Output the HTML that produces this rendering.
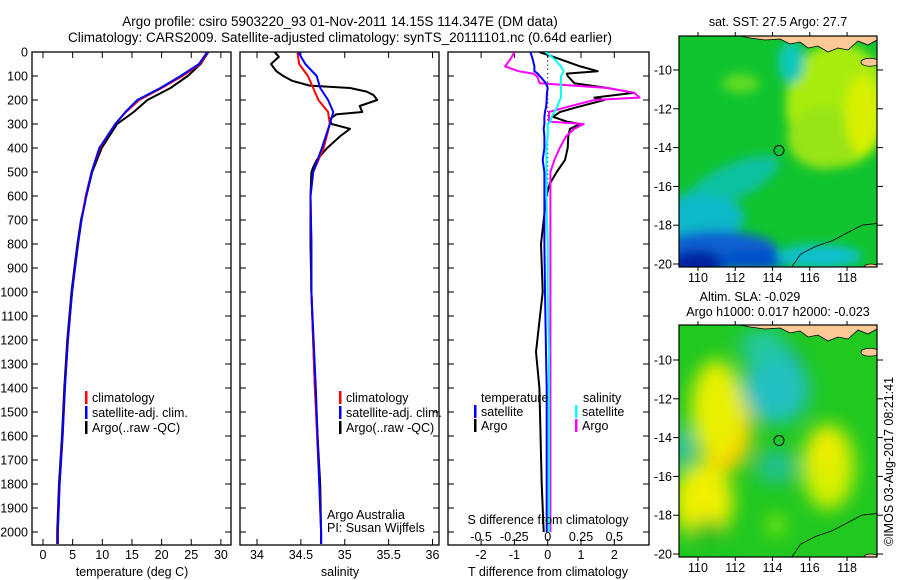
<!DOCTYPE html>
<html><head><meta charset="utf-8">
<style>
html,body{margin:0;padding:0;background:#fff;}
svg{display:block;font-family:"Liberation Sans",sans-serif;}
text{font-size:12.5px;fill:#000;}
</style></head>
<body>
<svg id="fig" width="900" height="580" viewBox="0 0 900 580" xmlns="http://www.w3.org/2000/svg">
<defs>
<filter id="blur1" x="-10%" y="-10%" width="120%" height="120%"><feGaussianBlur stdDeviation="5"/></filter>
<filter id="blur2" x="-10%" y="-10%" width="120%" height="120%"><feGaussianBlur stdDeviation="9"/></filter>
<clipPath id="clipMap1"><rect x="679" y="36" width="198" height="231"/></clipPath>
<clipPath id="clipMap2"><rect x="679" y="325" width="198" height="232"/></clipPath>
<clipPath id="clipP1"><rect x="32" y="52" width="199" height="493"/></clipPath>
<clipPath id="clipP2"><rect x="240" y="52" width="199" height="493"/></clipPath>
<clipPath id="clipP3"><rect x="448" y="52" width="201" height="493"/></clipPath>
</defs>
<text x="340" y="26" text-anchor="middle" style="font-size:13.5px">Argo profile: csiro 5903220_93 01-Nov-2011 14.15S 114.347E (DM data)</text>
<text x="340" y="42" text-anchor="middle" style="font-size:13.5px">Climatology: CARS2009. Satellite-adjusted climatology: synTS_20111101.nc (0.64d earlier)</text>
<g id="g"></g>
</svg>
<script>
// ---------- data ----------
const depthTicks = [0,100,200,300,400,500,600,700,800,900,1000,1100,1200,1300,1400,1500,1600,1700,1800,1900,2000];
const tempTicks = [0,5,10,15,20,25,30];
const salTicks = [34,34.5,35,35.5,36];
const tdiffTicks = [-2,-1,0,1,2];
const sdiffTicks = [-0.5,-0.25,0,0.25,0.5];

const tDepth = [0,50,100,150,200,250,300,400,500,600,700,800,900,1000,1200,1400,1600,1800,2000,2050];
const tClim  = [27.8,26.5,23.5,20.0,16.2,14.0,12.2,9.6,8.2,7.2,6.5,5.9,5.4,4.9,4.2,3.7,3.3,2.8,2.5,2.5];
const tSat   = [27.7,26.3,23.2,19.8,15.9,13.9,12.2,9.5,8.2,7.3,6.5,5.9,5.4,4.9,4.2,3.7,3.3,2.8,2.5,2.5];
const tArgo  = [27.9,26.6,24.4,21.5,17.6,15.3,12.5,9.9,8.3,7.3,6.4,5.8,5.3,4.8,4.1,3.6,3.2,2.7,2.4,2.4];

const sDepth = [0,50,100,150,200,250,300,400,500,600,800,1000,1400,1800,2000,2050];
const sClim  = [34.46,34.48,34.58,34.64,34.70,34.81,34.83,34.76,34.64,34.61,34.62,34.62,34.66,34.71,34.73,34.73];
const sSat   = [34.47,34.55,34.68,34.72,34.81,34.87,34.83,34.74,34.64,34.61,34.62,34.62,34.67,34.71,34.73,34.73];
const saDepth = [0,20,50,80,100,120,140,150,165,180,200,225,250,260,280,300,320,350,400,450,480,500,600,800,1000,1400,1800,2000,2050];
const sArgo   = [34.20,34.25,34.16,34.22,34.30,34.40,34.60,35.06,35.25,35.33,35.37,35.17,35.20,34.90,34.83,34.85,35.06,34.95,34.80,34.68,34.64,34.62,34.61,34.61,34.62,34.66,34.72,34.73,34.73];

const dDepth = [0,30,60,80,90,100,130,150,170,190,200,230,250,270,290,300,320,350,400,450,500,550,600,800,1000,1250,1400,1800,2000];
const dTSat  = [-0.52,-0.45,-0.40,-0.40,-0.30,-0.24,-0.05,0.00,-0.02,-0.03,-0.03,-0.05,-0.08,-0.10,-0.10,-0.10,-0.12,-0.10,-0.10,-0.15,-0.10,-0.10,-0.10,-0.10,-0.08,-0.05,-0.03,-0.03,-0.03];
const dTArgo = [-0.25,0.37,0.98,1.50,0.57,0.60,0.80,1.80,2.60,1.40,1.70,0.88,0.37,0.16,0.57,0.98,0.67,0.62,0.60,0.52,0.27,0.06,-0.04,-0.20,-0.15,-0.35,-0.25,-0.18,-0.12];
const dSSat  = [-0.015,0.05,0.10,0.12,0.11,0.10,0.10,0.10,0.10,0.10,0.09,0.07,0.05,0.03,0.02,0.00,0.00,0.00,-0.01,-0.01,-0.01,-0.01,-0.01,0.00,0.00,0.01,0.01,0.01,0.01];
const dSArgo = [-0.25,-0.28,-0.32,-0.22,-0.11,-0.08,-0.06,0.45,0.65,0.69,0.35,0.14,0.01,0.01,0.01,0.27,0.20,0.14,0.09,0.05,0.02,0.02,0.02,0.02,0.02,0.02,0.02,0.02,0.02];

const mapLonTicks = [110,112,114,116,118];
const mapLatTicks = [-10,-12,-14,-16,-18,-20];
const argoLon = 114.347, argoLat = -14.15;

// ---------- helpers ----------
const NS = "http://www.w3.org/2000/svg";
const G = document.getElementById('g');
function el(tag, attrs, parent, txt){
  const e = document.createElementNS(NS, tag);
  for (const k in attrs) e.setAttribute(k, attrs[k]);
  if (txt !== undefined) e.textContent = txt;
  (parent||G).appendChild(e);
  return e;
}
const Y0 = 52, Y1 = 545;
const yD = d => Y0 + d * 0.24;
const xT = v => 43 + v * 5.93;
const xS = v => 257 + (v - 34) * 87.75;
const xTd = v => 547.7 + v * 33.3;
const xSd = v => 547.7 + v * 133.2;

function panel(x0, x1, name){
  const r = el('rect',{x:x0,y:Y0,width:x1-x0,height:Y1-Y0,fill:'none',stroke:'#000','stroke-width':1.3});
  
  
  depthTicks.forEach(d=>{
    el('line',{x1:x0,x2:x0+6,y1:yD(d),y2:yD(d),stroke:'#000'});
    el('line',{x1:x1-6,x2:x1,y1:yD(d),y2:yD(d),stroke:'#000'});
  });
}
function xticks(arr, f, labelY, name){
  arr.forEach(v=>{
    const x = f(v);
    el('line',{x1:x,x2:x,y1:Y1-6,y2:Y1,stroke:'#000'});
    el('line',{x1:x,x2:x,y1:Y0,y2:Y0+6,stroke:'#000'});
    const t = el('text',{x:x,y:labelY,'text-anchor':'middle'},G,String(v));
    
    
  });
}
function line(xs, ds, fx, color, clip, name, w){
  const pts = xs.map((v,i)=>fx(v).toFixed(1)+','+yD(ds[i]).toFixed(1)).join(' ');
  const p = el('polyline',{points:pts,fill:'none',stroke:color,'stroke-width':w||2,'clip-path':'url(#'+clip+')','stroke-linejoin':'round'});
  
  
}
function legendRow(x, y, color, label, name){
  el('rect',{x:x,y:y-11,width:2.5,height:13,fill:color});
  const t = el('text',{x:x+7,y:y},G,label);
  
  
}

// ---------- panel 1: temperature ----------
panel(32,231,'temperature-panel');
depthTicks.forEach(d=>{
  const t = el('text',{x:28,y:yD(d)+4.5,'text-anchor':'end'},G,String(d));
  
  
});
xticks(tempTicks, xT, 559, 'temperature-tick-label');
line(tArgo, tDepth, xT, '#000', 'clipP1', 'temperature-argo-line');
line(tClim, tDepth, xT, '#f00', 'clipP1', 'temperature-climatology-line');
line(tSat, tDepth, xT, '#00f', 'clipP1', 'temperature-satellite-line');
{const t=el('text',{x:132,y:576,'text-anchor':'middle'},G,'temperature (deg C)');

}
legendRow(85,402,'#f00','climatology','legend-climatology');
legendRow(85,417,'#00f','satellite-adj. clim.','legend-satellite');
legendRow(85,432,'#000','Argo(..raw -QC)','legend-argo');

// ---------- panel 2: salinity ----------
panel(240,439,'salinity-panel');
xticks(salTicks, xS, 559, 'salinity-tick-label');
line(sArgo, saDepth, xS, '#000', 'clipP2', 'salinity-argo-line');
line(sClim, sDepth, xS, '#f00', 'clipP2', 'salinity-climatology-line');
line(sSat, sDepth, xS, '#00f', 'clipP2', 'salinity-satellite-line');
{const t=el('text',{x:340,y:576,'text-anchor':'middle'},G,'salinity');

}
legendRow(339,402,'#f00','climatology','legend2-climatology');
legendRow(339,417,'#00f','satellite-adj. clim.','legend2-satellite');
legendRow(339,432,'#000','Argo(..raw -QC)','legend2-argo');
{const t=el('text',{x:327,y:519},G,'Argo Australia');


const t2=el('text',{x:327,y:532},G,'PI: Susan Wijffels');

}

// ---------- panel 3: differences ----------
panel(448,649,'difference-panel');
xticks(tdiffTicks, xTd, 559, 'tdiff-tick-label');
el('line',{x1:xTd(0),x2:xTd(0),y1:yD(0),y2:yD(600),stroke:'#000','stroke-dasharray':'1.2,3','stroke-width':1});
line(dTArgo, dDepth, xTd, '#000', 'clipP3', 'tdiff-argo-line');
line(dSArgo, dDepth, xSd, '#f0f', 'clipP3', 'sdiff-argo-line');
line(dTSat, dDepth, xTd, '#00f', 'clipP3', 'tdiff-satellite-line');
line(dSSat, dDepth, xSd, '#0ff', 'clipP3', 'sdiff-satellite-line');
sdiffTicks.forEach(v=>{
  const t = el('text',{x:xSd(v),y:541,'text-anchor':'middle'},G,String(v));
  
  
});
{const t=el('text',{x:548,y:524,'text-anchor':'middle'},G,'S difference from climatology');


const t2=el('text',{x:548,y:576,'text-anchor':'middle'},G,'T difference from climatology');


const t3=el('text',{x:481,y:402},G,'temperature');


const t4=el('text',{x:583,y:402},G,'salinity');

}
legendRow(474,416,'#00f','satellite','legend3-t-satellite');
legendRow(474,430,'#000','Argo','legend3-t-argo');
legendRow(575,416,'#0ff','satellite','legend3-s-satellite');
legendRow(575,430,'#f0f','Argo','legend3-s-argo');

// ---------- maps ----------
function map(top, bottom, latRef, name, blobs, base, blurId, clipId){
  const lx = lon => 698 + (lon - 110) * 18.63;
  const ly = lat => latRef + (-10 - lat) * 19.4;
  const grp = el('g',{'clip-path':'url(#'+clipId+')'});
  
  
  el('rect',{x:679,y:top,width:198,height:bottom-top,fill:base},grp);
  const bg = el('g',{filter:'url(#'+blurId+')'},grp);
  blobs.forEach(b=>{
    el('ellipse',{cx:lx(b[0]),cy:ly(b[1]),rx:b[2]*18.6,ry:b[3]*19.4,fill:b[4],transform:'rotate('+(b[5]||0)+' '+lx(b[0])+' '+ly(b[1])+')'},bg);
  });
  // thin land strip along top with islands on the right
  const land = 'M740,'+top+' L877,'+top+' L877,'+(top+4)+' L868,'+(top+9)+' L858,'+(top+5)+' L848,'+(top+14)+' L838,'+(top+12)+' L828,'+(top+16)+' L818,'+(top+10)+' L808,'+(top+12)+' L800,'+(top+6)+' L790,'+(top+8)+' L780,'+(top+3)+' L765,'+(top+4)+' L750,'+(top+2)+' Z';
  el('path',{d:land,fill:'#fcc896',stroke:'#000','stroke-width':0.8},grp);
  el('ellipse',{cx:870,cy:ly(-9.6),rx:9,ry:4,fill:'#fcc896',stroke:'#000','stroke-width':0.8},grp);
  el('ellipse',{cx:871,cy:bottom,rx:7,ry:3,fill:'#fcc896',stroke:'#000','stroke-width':0.8},grp);
  const coast = [[115,-20.2],[115.5,-19.5],[116.3,-19.1],[117.2,-18.8],[118,-18.4],[118.8,-18.0],[119.7,-17.9]];
  el('polyline',{points:coast.map(p=>lx(p[0])+','+ly(p[1])).join(' '),fill:'none',stroke:'#000','stroke-width':0.8},grp);
  el('circle',{cx:lx(argoLon),cy:ly(argoLat),r:5,fill:'none',stroke:'#000','stroke-width':1});
  el('rect',{x:679,y:top,width:198,height:bottom-top,fill:'none',stroke:'#000','stroke-width':1.2});
  mapLatTicks.forEach(v=>{
    const y = ly(v);
    el('line',{x1:673,x2:679,y1:y,y2:y,stroke:'#000'});
    el('line',{x1:877,x2:883,y1:y,y2:y,stroke:'#000'});
    const t = el('text',{x:672,y:y+4.5,'text-anchor':'end'},G,String(v));
    
    
  });
  mapLonTicks.forEach(v=>{
    const x = lx(v);
    el('line',{x1:x,x2:x,y1:top-4,y2:top,stroke:'#000'});
    el('line',{x1:x,x2:x,y1:bottom,y2:bottom+4,stroke:'#000'});
    const t = el('text',{x:x,y:bottom+15,'text-anchor':'middle'},G,String(v));
    
    
  });
}
const sstBlobs = [
  [117.5,-11.8,2.8,3.2,'#a8ec10'],[116.8,-13.5,2,1.6,'#98e418'],[118.8,-12.3,0.9,2,'#d8f000'],
  [115,-9.6,0.7,1.1,'#10c8b8'],[111.8,-15.8,2.8,0.9,'#10c0a0',-25],[110,-17.6,2.5,1.2,'#10b8c8'],
  [111,-19.3,3.3,1.0,'#1060d0'],[110,-20,1.5,0.7,'#0020a0'],[113,-19.8,2,0.5,'#0050c8'],
  [116.5,-19.6,2.3,0.6,'#10c0d0'],[112.3,-10.7,1,0.5,'#60dc20']
];
map(36,267,70,'sst-map',sstBlobs,'#10c430','blur1','clipMap1');
const slaBlobs = [
  [114.6,-10.8,1.1,1.5,'#1890f0',-20],[114.2,-11.5,1.8,1.8,'#20c0c0',-20],[113.5,-9.3,1.3,0.9,'#20c8a0'],
  [111.4,-13.6,1.5,2.2,'#ffd000'],[111,-12.5,1.4,2.5,'#e8f000'],[110.3,-17.3,1.6,2,'#f0f000'],
  [117,-15.5,1.4,2.2,'#d8f000'],[116.8,-14.5,0.9,1,'#f0ec00'],[114.2,-15.5,1.1,0.9,'#20c090'],
  [109.2,-14.5,0.5,1,'#20c0c0'],[110.5,-19,0.9,0.8,'#20c020'],[114.2,-18.5,0.5,0.5,'#90ec10']
];
map(325,557,360,'sla-map',slaBlobs,'#20c820','blur2','clipMap2');
{const t=el('text',{x:778,y:26,'text-anchor':'middle'},G,'sat. SST: 27.5 Argo: 27.7');


const t2=el('text',{x:750,y:301,'text-anchor':'middle'},G,'Altim. SLA: -0.029');


const t3=el('text',{x:778,y:316,'text-anchor':'middle'},G,'Argo h1000: 0.017 h2000: -0.023');


const t4=el('text',{x:0,y:0,transform:'translate(893,546) rotate(-90)'},G,'©IMOS 03-Aug-2017 08:21:41');

}
</script>
</body></html>
